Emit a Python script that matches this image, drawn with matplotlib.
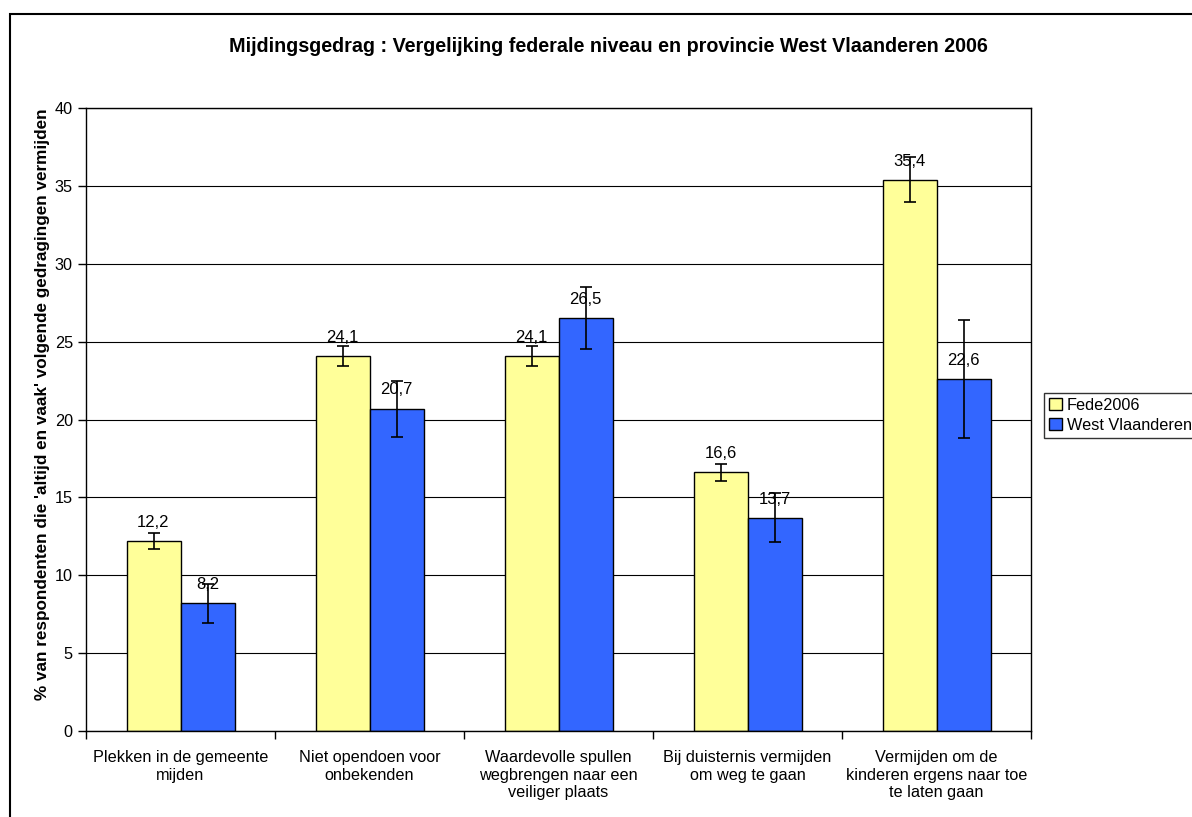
import matplotlib.pyplot as plt
import numpy as np
from matplotlib.patches import Rectangle

plt.rcParams["font.family"] = ["Liberation Sans", "DejaVu Sans"]

# Data
categories = [
    "Plekken in de gemeente\nmijden",
    "Niet opendoen voor\nonbekenden",
    "Waardevolle spullen\nwegbrengen naar een\nveiliger plaats",
    "Bij duisternis vermijden\nom weg te gaan",
    "Vermijden om de\nkinderen ergens naar toe\nte laten gaan",
]
fede = [12.2, 24.1, 24.1, 16.6, 35.4]
fede_err = [0.5, 0.65, 0.65, 0.55, 1.45]
west = [8.2, 20.7, 26.5, 13.7, 22.6]
west_err = [1.25, 1.8, 2.0, 1.55, 3.8]
series_names = ["Fede2006", "West Vlaanderen"]

fig = plt.figure(figsize=(11.92, 8.17), dpi=100)
ax = fig.add_axes([86 / 1192, 86 / 817, (1031 - 86) / 1192, (731 - 108) / 817])

x = np.arange(len(categories))
w = 54 / 189

b1 = ax.bar(x - w / 2, fede, w, color="#FFFF99", edgecolor="black", linewidth=1,
            label=series_names[0], zorder=2)
b2 = ax.bar(x + w / 2, west, w, color="#3366FF", edgecolor="black", linewidth=1,
            label=series_names[1], zorder=2)
ax.errorbar(x - w / 2, fede, yerr=fede_err, fmt="none", ecolor="black",
            elinewidth=1.2, capsize=4, capthick=1.2, zorder=3)
ax.errorbar(x + w / 2, west, yerr=west_err, fmt="none", ecolor="black",
            elinewidth=1.2, capsize=4, capthick=1.2, zorder=3)

# data labels with decimal comma
for bars in (b1, b2):
    for rect in bars:
        h = rect.get_height()
        ax.annotate(f"{h:.1f}".replace(".", ","),
                    (rect.get_x() + rect.get_width() / 2, h),
                    xytext=(0, 8), textcoords="offset points",
                    ha="center", va="bottom", fontsize=12, zorder=4)

ax.set_xlim(-0.5, len(categories) - 0.5)
ax.set_ylim(0, 40)
ax.set_yticks(range(0, 41, 5))
ax.yaxis.grid(True, color="black", linewidth=0.8, zorder=0)
ax.set_axisbelow(True)

ax.set_xticks(x)
ax.set_xticklabels(categories, fontsize=11.7)
ax.set_xticks(np.arange(-0.5, len(categories), 1), minor=True)
ax.tick_params(axis="x", which="major", length=0, pad=14)
ax.tick_params(axis="x", which="minor", length=6, width=1, direction="out")
ax.tick_params(axis="y", labelsize=11.7, length=6, width=1, direction="out")

for s in ax.spines.values():
    s.set_linewidth(1)
    s.set_color("black")

ax.set_ylabel("% van respondenten die 'altijd en vaak' volgende gedragingen vermijden",
              fontsize=12.3, fontweight="bold")
ax.yaxis.set_label_coords(-0.038, 0.525)
fig.text(608 / 1192, 1 - 47 / 817,
         "Mijdingsgedrag : Vergelijking federale niveau en provincie West Vlaanderen 2006",
         ha="center", va="center", fontsize=14.2, fontweight="bold")

leg = ax.legend(loc="upper left", bbox_to_anchor=(1044 / 1192, 1 - 393 / 817),
                bbox_transform=fig.transFigure, fontsize=11.7, frameon=True,
                fancybox=False, edgecolor="black", handlelength=0.8,
                handleheight=0.8, handletextpad=0.3, borderpad=0.3,
                labelspacing=0.3, borderaxespad=0)
leg.get_frame().set_linewidth(1)

# outer chart border
fig.patches.append(Rectangle((10 / 1192, -0.1), 2, 1 - 14 / 817 + 0.1,
                             transform=fig.transFigure, fill=False,
                             edgecolor="black", linewidth=1.5))

fig.savefig("out.png", dpi=100)
